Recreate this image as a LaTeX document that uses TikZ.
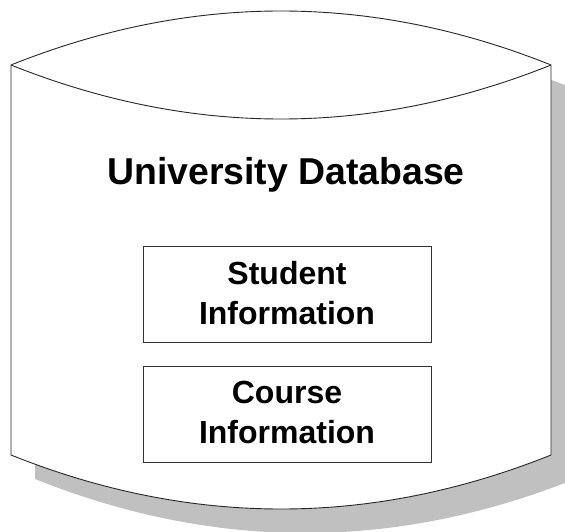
\documentclass[tikz,border=0pt]{standalone}
\usepackage{fontspec}
\setmainfont{Liberation Sans}
\definecolor{castgrey}{HTML}{C0C0C0}
\tikzset{
  outline/.style={draw=black!85,line width=0.9pt,fill=white},
  infobox/.style={draw=black!80,line width=0.8pt,fill=white,minimum width=288pt,minimum height=96pt,inner sep=0pt,align=center,font=\fontsize{32}{39.5}\selectfont\bfseries},
  titletext/.style={inner sep=0pt,font=\fontsize{37.4}{40}\selectfont\bfseries}
}
\begin{document}
\begin{tikzpicture}[x=1pt,y=-1pt]
\useasboundingbox (0,0) rectangle (565,532);
\clip (0,0) rectangle (565,532);
\fill[castgrey] (35,89) .. controls (215,17) and (395,17) .. (575,89) -- (575,479) .. controls (395,551) and (215,551) .. (35,479) -- cycle;
\draw[outline] (11,65) .. controls (191,-7) and (371,-7) .. (551,65) -- (551,455) .. controls (371,527) and (191,527) .. (11,455) -- cycle;
\draw[outline] (11,65) .. controls (191,137) and (371,137) .. (551,65);
\node[titletext] (title) at (286,175) {University Database};
\node[infobox] (student) at (287,294.5) {Student\\Information\\[-36.5pt]\mbox{}};
\node[infobox] (course) at (287,414) {Course\\Information\\[-36.5pt]\mbox{}};
\end{tikzpicture}
\end{document}
